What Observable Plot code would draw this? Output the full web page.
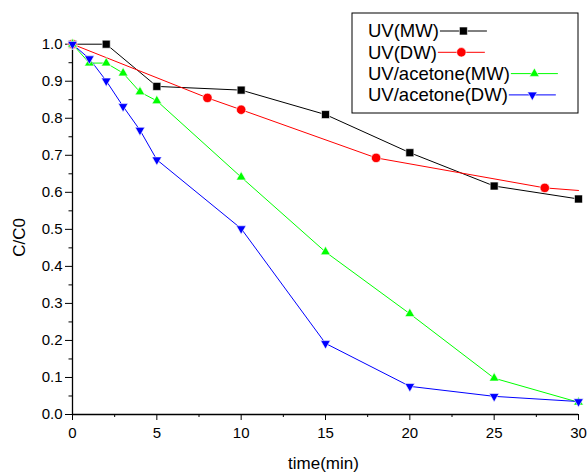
<!DOCTYPE html>
<html><head><meta charset="utf-8">
<script src="https://cdn.jsdelivr.net/npm/d3@7"></script>
<script src="https://cdn.jsdelivr.net/npm/@observablehq/plot@0.6"></script>
<style>body{margin:0;background:#fff}</style>
</head><body><div id="chart"></div>
<script>
// ---- data ----
const seriesNames = ["UV(MW)", "UV(DW)", "UV/acetone(MW)", "UV/acetone(DW)"];
const seriesColors = ["#000000", "#ff0000", "#00ff00", "#0000ff"];
const seriesSymbols = ["square", "circle", "triangle", "triangle"];
const seriesRotate = [0, 0, 0, 180];
const seriesR = [4.5, 4.7, 3.6, 3.6];

const uvMwTime = [0, 2, 5, 10, 15, 20, 25, 30];
const uvMwValue = [1.0, 1.0, 0.886, 0.876, 0.810, 0.707, 0.617, 0.582];

const uvDwTime = [0, 8, 10, 18, 28, 30];
const uvDwValue = [1.0, 0.855, 0.823, 0.693, 0.612, 0.605];
const uvDwMarked = [true, true, true, true, true, false];

const acMwTime = [0, 1, 2, 3, 4, 5, 10, 15, 20, 25, 30];
const acMwValue = [1.0, 0.949, 0.949, 0.922, 0.871, 0.847, 0.641, 0.439, 0.272, 0.098, 0.033];

const acDwTime = [0, 1, 2, 3, 4, 5, 10, 15, 20, 25, 30];
const acDwValue = [1.0, 0.961, 0.901, 0.832, 0.768, 0.688, 0.502, 0.192, 0.076, 0.049, 0.035];

const xTicks = [0, 5, 10, 15, 20, 25, 30];
const xMinorTicks = [2.5, 7.5, 12.5, 17.5, 22.5, 27.5];
const yTicks = [0, 0.1, 0.2, 0.3, 0.4, 0.5, 0.6, 0.7, 0.8, 0.9, 1.0];
const yMinorTicks = [0.05, 0.15, 0.25, 0.35, 0.45, 0.55, 0.65, 0.75, 0.85, 0.95];

// ---- build table ----
const series = [
  {t: uvMwTime, v: uvMwValue},
  {t: uvDwTime, v: uvDwValue, m: uvDwMarked},
  {t: acMwTime, v: acMwValue},
  {t: acDwTime, v: acDwValue}
].map((s, i) => s.t.map((t, j) => ({
  name: seriesNames[i], idx: i, t, v: s.v[j], marked: s.m ? s.m[j] : true
})));

const lineMarks = [];
const dotMarks = [];
series.forEach((rows, i) => {
  lineMarks.push(Plot.line(rows, {x: "t", y: "v", stroke: seriesColors[i], strokeWidth: 1}));
  dotMarks.push(Plot.dot(rows.filter(d => d.marked), {
    x: "t", y: "v", symbol: seriesSymbols[i], fill: seriesColors[i],
    stroke: "#fff", strokeWidth: 0.6,
    r: seriesR[i], rotate: seriesRotate[i]
  }));
});

const font = "'Liberation Sans', Arial, Helvetica, sans-serif";

const plot = Plot.plot({
  width: 587, height: 472,
  marginLeft: 72, marginRight: 9, marginTop: 40, marginBottom: 58,
  x: {domain: [0, 30]},
  y: {domain: [0, 1.01]},
  style: {fontFamily: font, fontSize: "15px", color: "#000", background: "#fff", overflow: "visible"},
  marks: [
    Plot.axisX({ticks: xTicks, tickSize: 6, tickPadding: 7, label: null, fontSize: 15}),
    Plot.axisX({ticks: xMinorTicks, tickSize: 3, text: null, label: null}),
    Plot.axisY({ticks: yTicks, tickSize: 7, tickPadding: 3, tickFormat: d3.format(".1f"), label: null, fontSize: 15}),
    Plot.axisY({ticks: yMinorTicks, tickSize: 3.5, text: null, label: null}),
    Plot.ruleX([0], {strokeWidth: 1.3}),
    Plot.ruleY([0], {strokeWidth: 1.3}),
    ...lineMarks,
    ...dotMarks,
    Plot.text(["C/C0"], {text: d => d, frameAnchor: "left", rotate: -90, dx: -53, dy: 10,
      textAnchor: "middle", lineAnchor: "middle", fontSize: 17}),
    Plot.text(["time(min)"], {text: d => d, frameAnchor: "bottom", dx: -2, dy: 49,
      textAnchor: "middle", lineAnchor: "middle", fontSize: 17})
  ]
});
document.getElementById("chart").appendChild(plot);

// ---- legend ----
const svg = d3.select(plot);
const lg = svg.append("g").attr("font-family", font).attr("font-size", 18.5).attr("text-anchor", "start");
lg.append("rect").attr("x", 352).attr("y", 13).attr("width", 226).attr("height", 100)
  .attr("fill", "#fff").attr("stroke", "#000").attr("stroke-width", 1);
const symbolMap = {square: d3.symbolSquare, circle: d3.symbolCircle, triangle: d3.symbolTriangle};
seriesNames.forEach((name, i) => {
  const cy = 31 + i * 21.3;
  const txt = lg.append("text").attr("x", 368).attr("y", cy).attr("dy", "0.35em")
    .attr("text-anchor", "start").attr("fill", "#000").text(name);
  const w = txt.node().getComputedTextLength();
  const x0 = 368 + w + 1, x1 = x0 + 47;
  lg.append("line").attr("x1", x0).attr("x2", x1).attr("y1", cy).attr("y2", cy)
    .attr("stroke", seriesColors[i]).attr("stroke-width", 1);
  lg.append("path").attr("d", d3.symbol(symbolMap[seriesSymbols[i]], Math.PI * seriesR[i] * seriesR[i])())
    .attr("transform", `translate(${(x0 + x1) / 2},${cy}) rotate(${seriesRotate[i]})`)
    .attr("fill", seriesColors[i]).attr("stroke", "#fff").attr("stroke-width", 0.6);
});
</script>
</body></html>
